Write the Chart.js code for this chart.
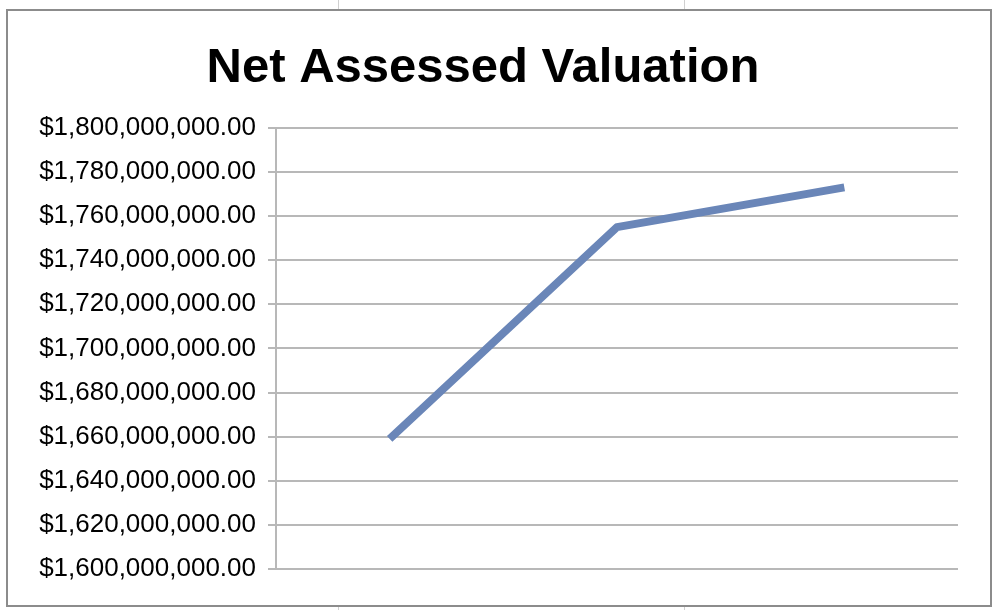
<!DOCTYPE html>
<html><head>
<script src="https://cdn.jsdelivr.net/npm/chart.js@4/dist/chart.umd.min.js"></script>
<style>
html,body{margin:0;padding:0;background:#fff;}
#wrap{position:absolute;left:0;top:0;width:1000px;height:610px;background:#fff;}
#frame{position:absolute;left:6px;top:9px;width:982px;height:594px;border:2px solid #8c8c8c;background:#fff;}
.gl{position:absolute;background:#d0d0d0;}
</style></head>
<body>
<div id="wrap">
<div class="gl" style="left:338px;top:0;width:1px;height:9px"></div>
<div class="gl" style="left:684px;top:0;width:1px;height:9px"></div>
<div class="gl" style="left:338px;top:605px;width:1px;height:5px"></div>
<div class="gl" style="left:684px;top:605px;width:1px;height:5px"></div>
<div id="frame"><canvas id="c" width="982" height="594"></canvas></div>
</div>
<script>
const categories = ["1", "2", "3"];
const values = [1659000000, 1755000000, 1773000000];
const yMin = 1600000000, yMax = 1800000000, yStep = 20000000;

const fmt = v => "$" + v.toLocaleString("en-US", {minimumFractionDigits:2, maximumFractionDigits:2});

new Chart(document.getElementById("c"), {
  type: "line",
  data: { labels: categories, datasets: [{
    data: values, borderColor: "#6a86b8", borderWidth: 8, pointRadius: 0,
    tension: 0, fill: false, borderCapStyle: "butt", borderJoinStyle: "round"
  }]},
  options: {
    responsive: false, animation: false,
    layout: { padding: { left: 0, right: 32, top: 0, bottom: 36 } },
    plugins: {
      legend: { display: false }, tooltip: { enabled: false },
      title: { display: true, text: "Net Assessed Valuation", color: "#000",
        font: { family: "Liberation Sans", size: 49, weight: "bold" },
        padding: { top: 28, bottom: 30 } }
    },
    scales: {
      x: { offset: true, ticks: { display: false },
        grid: { display: false, drawTicks: false },
        border: { display: false } },
      y: { min: yMin, max: yMax,
        ticks: { stepSize: yStep, callback: v => fmt(v), color: "#000",
          font: { family: "Liberation Sans", size: 26 }, padding: 12 },
        grid: { color: "#b8b8b8", lineWidth: 2, drawTicks: true, tickLength: 8 },
        border: { display: true, color: "#b8b8b8", width: 2 },
        afterFit: s => { s.width = 268; } }
    }
  }
});
</script>
</body></html>
